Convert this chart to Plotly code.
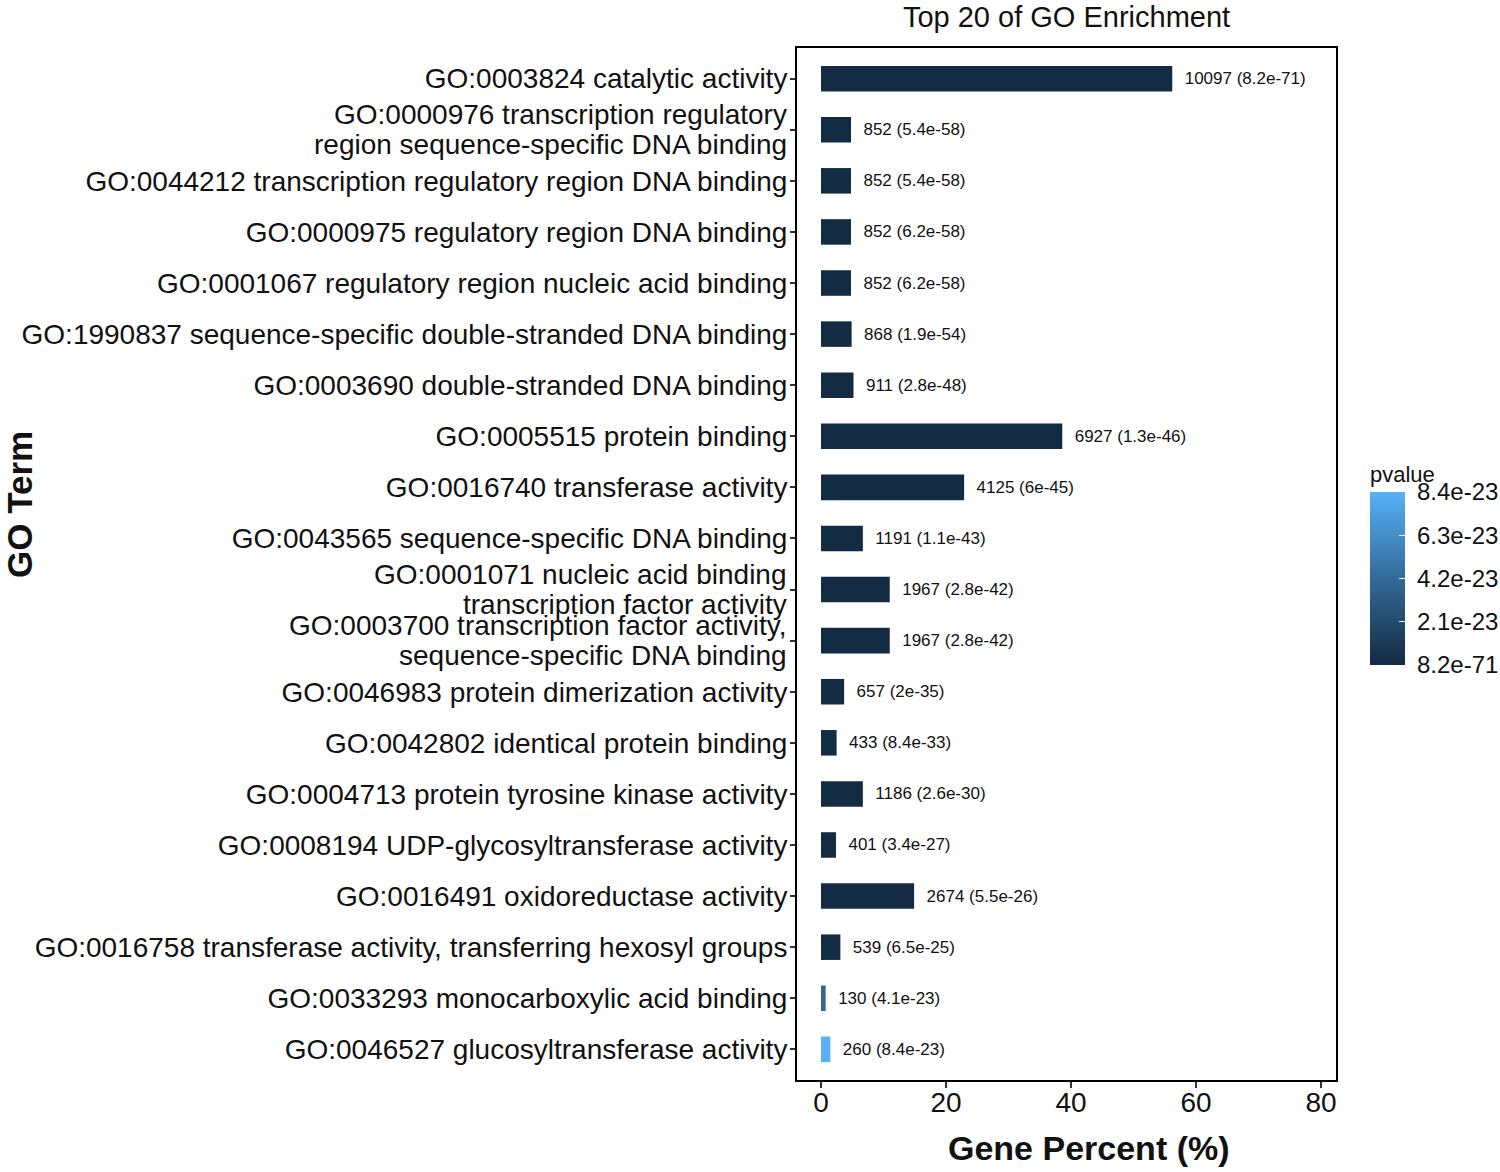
import plotly.graph_objects as go

terms = [
    "GO:0003824 catalytic activity",
    "GO:0000976 transcription regulatory<br>region sequence-specific DNA binding",
    "GO:0044212 transcription regulatory region DNA binding",
    "GO:0000975 regulatory region DNA binding",
    "GO:0001067 regulatory region nucleic acid binding",
    "GO:1990837 sequence-specific double-stranded DNA binding",
    "GO:0003690 double-stranded DNA binding",
    "GO:0005515 protein binding",
    "GO:0016740 transferase activity",
    "GO:0043565 sequence-specific DNA binding",
    "GO:0001071 nucleic acid binding<br>transcription factor activity",
    "GO:0003700 transcription factor activity,<br>sequence-specific DNA binding",
    "GO:0046983 protein dimerization activity",
    "GO:0042802 identical protein binding",
    "GO:0004713 protein tyrosine kinase activity",
    "GO:0008194 UDP-glycosyltransferase activity",
    "GO:0016491 oxidoreductase activity",
    "GO:0016758 transferase activity, transferring hexosyl groups",
    "GO:0033293 monocarboxylic acid binding",
    "GO:0046527 glucosyltransferase activity",
]
gene_percent = [56.2, 4.8, 4.8, 4.8, 4.8, 4.9, 5.2, 38.6, 22.9, 6.7,
                11.0, 11.0, 3.7, 2.5, 6.7, 2.4, 14.9, 3.1, 0.75, 1.5]
counts = [10097, 852, 852, 852, 852, 868, 911, 6927, 4125, 1191,
          1967, 1967, 657, 433, 1186, 401, 2674, 539, 130, 260]
pvalue_txt = ["8.2e-71", "5.4e-58", "5.4e-58", "6.2e-58", "6.2e-58", "1.9e-54",
              "2.8e-48", "1.3e-46", "6e-45", "1.1e-43", "2.8e-42", "2.8e-42",
              "2e-35", "8.4e-33", "2.6e-30", "3.4e-27", "5.5e-26", "6.5e-25",
              "4.1e-23", "8.4e-23"]
pvalue = [float(p) for p in pvalue_txt]
cbar_vals = [8.2e-71, 2.1e-23, 4.2e-23, 6.3e-23, 8.4e-23]
cbar_text = ["8.2e-71", "2.1e-23", "4.2e-23", "6.3e-23", "8.4e-23"]

FONT = "Liberation Sans, Arial, sans-serif"
INK = "#111"
labels = ["\u00a0\u00a0" + f"{c} ({p})" for c, p in zip(counts, pvalue_txt)]

# pixel geometry of the panel, used to place annotations in paper units
L, R, T, B = 797, 1336, 48, 1080
pw, ph = R - L, B - T

fig = go.Figure()
fig.add_trace(go.Bar(
    x=gene_percent, y=terms, orientation="h", width=0.5,
    marker=dict(color=pvalue, cmin=min(pvalue), cmax=max(pvalue),
                colorscale=[[0, "#132B43"], [0.5, "#336A98"], [1, "#56B1F7"]],
                line=dict(width=0),
                colorbar=dict(title=dict(text="pvalue", side="top", font=dict(size=22, family=FONT, color=INK)),
                              tickvals=cbar_vals, ticktext=["\u00a0" + s for s in cbar_text],
                              ticks="inside", tickcolor="white", ticklen=6,
                              tickfont=dict(size=24, family=FONT, color=INK),
                              thickness=35, len=203, lenmode="pixels",
                              xref="container", x=1370 / 1500, xanchor="left",
                              y=(B - 665) / ph, yanchor="bottom",
                              xpad=0, ypad=0, outlinewidth=0)),
    text=labels, textposition="outside", constraintext="none", cliponaxis=False,
    textfont=dict(size=17, family=FONT, color=INK),
    showlegend=False,
))

# two-line labels are drawn as annotations so the line spacing can be tight
ticktext = ["" if "<br>" in t else t for t in terms]
annotations = []
for t in terms:
    if "<br>" in t:
        for line, shift in zip(t.split("<br>"), (15, -15)):
            annotations.append(dict(text=line, x=0, xref="paper", y=t, yref="y", xanchor="right",
                                    yanchor="middle", xshift=-8, yshift=shift, showarrow=False,
                                    font=dict(size=28, family=FONT, color=INK)))

annotations += [
    dict(text="<b>Gene Percent (%)</b>", x=(1089 - L) / pw, y=(B - 1148) / ph, xref="paper", yref="paper",
         showarrow=False, font=dict(size=34, family=FONT, color=INK), xanchor="center", yanchor="middle"),
    dict(text="<b>GO Term</b>", x=(19 - L) / pw, y=(B - 505) / ph, xref="paper", yref="paper", textangle=-90,
         showarrow=False, font=dict(size=35, family=FONT, color=INK), xanchor="center", yanchor="middle"),
]

fig.update_layout(
    width=1500, height=1172,
    margin=dict(l=L, r=1500 - R, t=T, b=1172 - B),
    plot_bgcolor="white", paper_bgcolor="white",
    font=dict(family=FONT, color=INK),
    title=dict(text="Top 20 of GO Enrichment", x=(L + R) / 2 / 1500, xanchor="center",
               y=1 - 17 / 1172, yanchor="middle", font=dict(size=29, family=FONT, color=INK)),
    xaxis=dict(range=[-3.84, 82.4], tickvals=[0, 20, 40, 60, 80], showgrid=False, zeroline=False,
               showline=True, mirror=True, linecolor="black", linewidth=2,
               ticks="outside", ticklen=6, tickcolor="#333", tickwidth=1.5, ticklabelstandoff=-10,
               tickfont=dict(size=28, family=FONT, color=INK)),
    yaxis=dict(categoryorder="array", categoryarray=terms, autorange=False, range=[19.6, -0.6],
               tickvals=terms, ticktext=ticktext,
               showgrid=False, zeroline=False,
               showline=True, mirror=True, linecolor="black", linewidth=2,
               ticks="outside", ticklen=5, tickcolor="#333", tickwidth=1.5, ticklabelstandoff=-3,
               tickfont=dict(size=28, family=FONT, color=INK)),
    annotations=annotations,
)

fig.write_html("out.html", config={"displayModeBar": False},
               post_script="document.body.style.margin='0';")
